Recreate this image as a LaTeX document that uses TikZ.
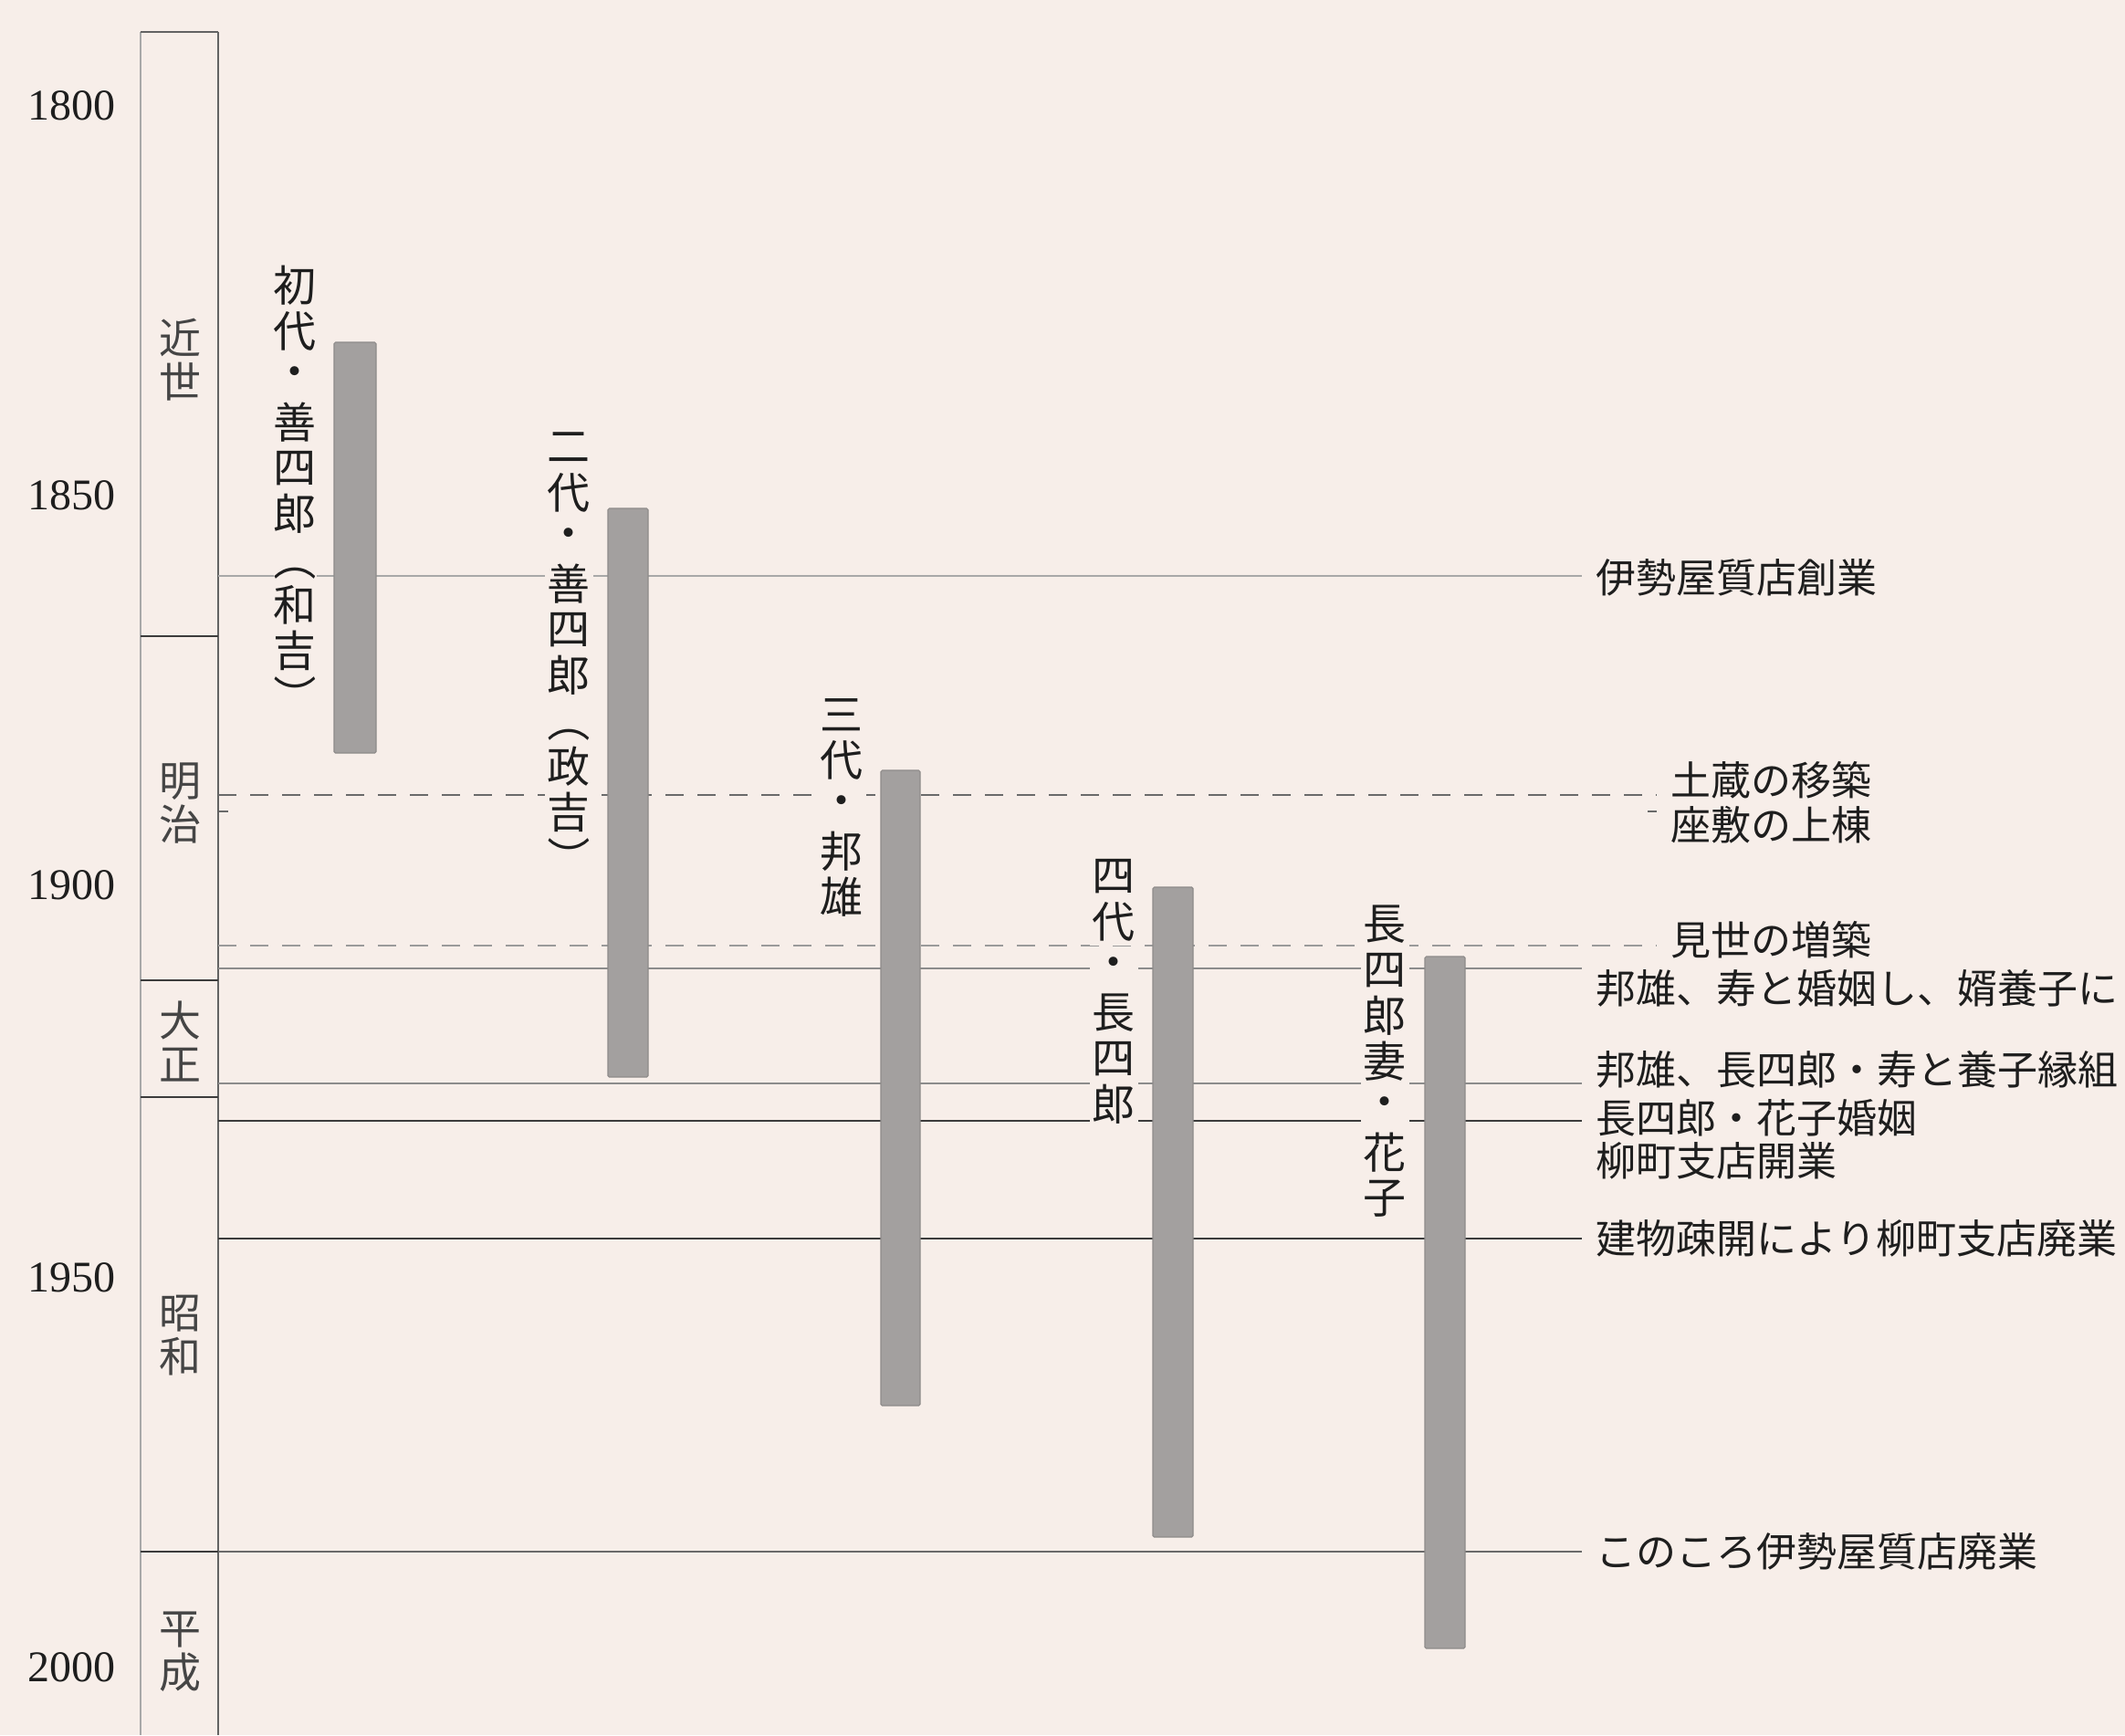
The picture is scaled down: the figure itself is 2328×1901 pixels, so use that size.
\documentclass[tikz,border=0pt]{standalone}
\usepackage{fontspec}
\setmainfont{Liberation Serif}
\newfontfamily\jp{Noto Sans CJK JP}
\definecolor{bgc}{HTML}{F7EEE9}
\definecolor{barfill}{HTML}{A3A09F}
\definecolor{barline}{HTML}{8E8B8A}
\definecolor{ink}{HTML}{1E1E1E}
\definecolor{eraink}{HTML}{454545}
\definecolor{lightln}{HTML}{A8A8A8}
\definecolor{midln}{HTML}{8C8C8C}
\definecolor{darkln}{HTML}{3C3C3C}
\definecolor{dashdark}{HTML}{6A6A6A}
\definecolor{dashlight}{HTML}{9A9A9A}
\begin{document}
\begin{tikzpicture}[x=0.5pt,y=-0.5pt,
  vch/.style={font=\jp\fontsize{23.5pt}{25pt}\selectfont, text=ink, fill=bgc,
              inner xsep=1.5pt, inner ysep=2.5pt},
  vparen/.style={font=\jp\fontsize{23.5pt}{25pt}\selectfont, text=ink, fill=bgc,
              inner sep=0pt, text height=20.7pt, text depth=2.8pt, rotate=-90},
  erach/.style={font=\jp\fontsize{23pt}{25pt}\selectfont, text=eraink, inner sep=0pt,
              text height=20.2pt, text depth=2.8pt},
  evt/.style={font=\jp\fontsize{22pt}{26pt}\selectfont, text=ink, inner ysep=0pt,
              inner xsep=7.5pt, text height=19.4pt, text depth=2.6pt, anchor=west},
  yr/.style={font=\fontsize{24pt}{28pt}\selectfont, text=ink, inner sep=0pt, anchor=east},
  bar/.style={fill=barfill, draw=barline, line width=0.6pt, rounded corners=0.8pt},
  lnlight/.style={draw=lightln, line width=0.9pt},
  lnmid/.style={draw=midln, line width=0.9pt},
  lndark/.style={draw=darkln, line width=0.9pt},
  dshdark/.style={draw=dashdark, line width=0.9pt, dash pattern=on 10pt off 7.5pt},
  dshlight/.style={draw=dashlight, line width=0.9pt, dash pattern=on 10pt off 7.5pt},
  eraL/.style={draw=lightln, line width=0.8pt},
  eraR/.style={draw=darkln!80, line width=1pt},
  eraDiv/.style={draw=darkln, line width=1pt}]
\useasboundingbox (0,0) rectangle (2328,1901);
\fill[bgc] (0,0) rectangle (2328,1901);

% year labels
\node[yr] (y1800) at (127,116) {1800};
\node[yr] (y1850) at (127,543) {1850};
\node[yr] (y1900) at (127,970) {1900};
\node[yr] (y1950) at (127,1400) {1950};
\node[yr] (y2000) at (127,1827) {2000};

% era column
\draw[eraL] (154,35) -- (154,1901);
\draw[eraR] (239,35) -- (239,1901);
\draw[eraR] (154,35) -- (239,35);
\draw[eraDiv] (154,697) -- (239,697);
\draw[eraDiv] (154,1074) -- (239,1074);
\draw[eraDiv] (154,1202) -- (239,1202);
\draw[eraDiv] (154,1700) -- (239,1700);
\node[erach] (era1a) at (197,370) {近};
\node[erach] (era1b) at (197,418) {世};
\node[erach] (era2a) at (197,855) {明};
\node[erach] (era2b) at (197,903) {治};
\node[erach] (era3a) at (197,1118) {大};
\node[erach] (era3b) at (197,1166) {正};
\node[erach] (era4a) at (197,1438) {昭};
\node[erach] (era4b) at (197,1486) {和};
\node[erach] (era5a) at (197,1784) {平};
\node[erach] (era5b) at (197,1832) {成};

% event labels
\node[evt] (e1) at (1733,633) {伊勢屋質店創業};
\node[evt] (e2) at (1815,855) {土蔵の移築};
\node[evt] (e3) at (1815,904) {座敷の上棟};
\node[evt] (e4) at (1815,1030) {見世の増築};
\node[evt] (e5) at (1733,1083) {邦雄、寿と婚姻し、婿養子に};
\node[evt] (e6) at (1733,1172) {邦雄、長四郎・寿と養子縁組};
\node[evt] (e7) at (1733,1225) {長四郎・花子婚姻};
\node[evt] (e8) at (1733,1272) {柳町支店開業};
\node[evt] (e9) at (1733,1357) {建物疎開により柳町支店廃業};
\node[evt] (e10) at (1733,1700) {このころ伊勢屋質店廃業};

% event lines
\coordinate (s1) at (239,631);
\coordinate (s2) at (239,871);
\coordinate (s3) at (240,889);
\coordinate (s4) at (239,1036);
\coordinate (s5) at (239,1061);
\coordinate (s6) at (239,1187);
\coordinate (s7) at (239,1228);
\coordinate (s9) at (239,1357);
\coordinate (s10) at (239,1700);
\draw[lnlight] (s1) -- (s1 -| e1.west);
\draw[dshdark] (s2) -- (s2 -| e2.west);
\draw[dshdark] (s3) -- ++(10,0);
\draw[dshdark] (s3 -| e3.west) -- ++(-10,0);
\draw[dshlight] (s4) -- (s4 -| e4.west);
\draw[lnmid] (s5) -- (s5 -| e5.west);
\draw[lnmid] (s6) -- (s6 -| e6.west);
\draw[lndark] (s7) -- (s7 -| e7.west);
\draw[lndark] (s9) -- (s9 -| e9.west);
\draw[draw=dashdark, line width=0.9pt] (s10) -- (s10 -| e10.west);

% generation bars
\draw[bar] (366,375) rectangle (412,825);
\draw[bar] (666,557) rectangle (710,1180);
\draw[bar] (965,844) rectangle (1008,1540);
\draw[bar] (1263,972) rectangle (1307,1684);
\draw[bar] (1561,1048) rectangle (1605,1806);

% generation labels (vertical)
\foreach \c [count=\i] in {初,代,・,善,四,郎}
  \node[vch] (ga\i) at (323,{313+50*(\i-1)}) {\c};
\node[vparen] (ga7) at (323,613) {（};
\node[vch] (ga8) at (323,663) {和};
\node[vch] (ga9) at (323,713) {吉};
\node[vparen] (ga10) at (323,763) {）};

\foreach \c [count=\i] in {二,代,・,善,四,郎}
  \node[vch] (gb\i) at (623,{490+50*(\i-1)}) {\c};
\node[vparen] (gb7) at (623,790) {（};
\node[vch] (gb8) at (623,840) {政};
\node[vch] (gb9) at (623,890) {吉};
\node[vparen] (gb10) at (623,940) {）};

\foreach \c [count=\i] in {三,代,・,邦,雄}
  \node[vch] (gc\i) at (922,{783+50*(\i-1)}) {\c};
\foreach \c [count=\i] in {四,代,・,長,四,郎}
  \node[vch] (gd\i) at (1220,{960+50*(\i-1)}) {\c};
\foreach \c [count=\i] in {長,四,郎,妻,・,花,子}
  \node[vch] (ge\i) at (1517,{1013+50*(\i-1)}) {\c};
\end{tikzpicture}
\end{document}
